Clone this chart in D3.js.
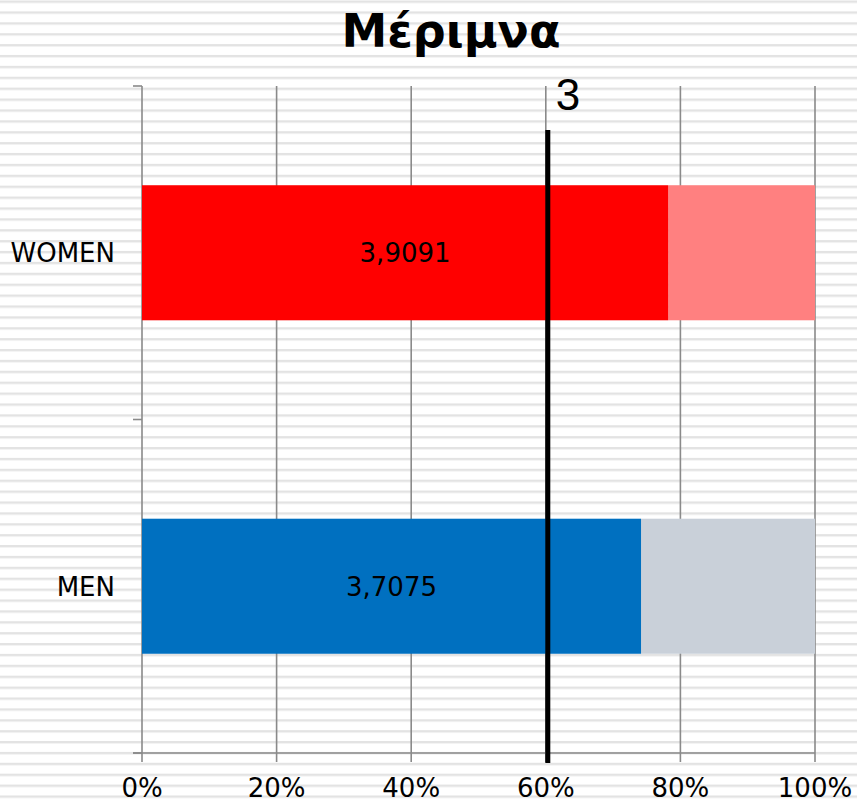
<!DOCTYPE html>
<html>
<head>
<meta charset="utf-8">
<script src="https://cdn.jsdelivr.net/npm/d3@7"></script>
<style>
  body { margin: 0; background: #fff; }
  svg { display: block; }
</style>
</head>
<body>
<div id="chart"></div>
<script>
var categories = ["WOMEN", "MEN"]
var means = [3.9091, 3.7075]
var meanLabels = ["3,9091", "3,7075"]
var scaleMax = 5
var refValue = 3
var tickValues = [0, 0.2, 0.4, 0.6, 0.8, 1]
var mainColors = ["#ff0000", "#0070c0"]
var restColors = ["#ff8080", "#c9d0d9"]

var width = 857,
    height = 802,
    margin = { top: 86, right: 42, bottom: 49, left: 142 }

var svg = d3.select("#chart").append("svg")
    .attr("width", width)
    .attr("height", height)

// striped background
var defs = svg.append("defs")
var pat = defs.append("pattern")
    .attr("id", "stripes")
    .attr("patternUnits", "userSpaceOnUse")
    .attr("width", 10)
    .attr("height", 10.89)
    .attr("y", 0.5)
pat.append("rect").attr("width", 10).attr("height", 10.89).attr("fill", "#fff")
pat.append("rect").attr("y", 0).attr("width", 10).attr("height", 2.4).attr("fill", "#e3e3e3")
svg.append("rect").attr("width", width).attr("height", height).attr("fill", "url(#stripes)")

var x = d3.scaleLinear().domain([0, 1]).range([margin.left, width - margin.right])
var y = d3.scaleBand().domain(categories)
    .range([margin.top, height - margin.bottom])
    .paddingInner(0.595)
    .paddingOuter(0.2976)

// gridlines + bottom ticks
svg.selectAll(".grid")
  .data(tickValues)
  .enter().append("line")
    .attr("x1", function(d) { return x(d); })
    .attr("x2", function(d) { return x(d); })
    .attr("y1", margin.top)
    .attr("y2", height - margin.bottom + 9)
    .attr("stroke", "#8a8a8a")
    .attr("stroke-width", 1.6)

// category axis ticks (band edges)
var yEdges = [margin.top, (margin.top + height - margin.bottom) / 2, height - margin.bottom]
svg.selectAll(".ytick")
  .data(yEdges)
  .enter().append("line")
    .attr("x1", margin.left - 9)
    .attr("x2", margin.left)
    .attr("y1", function(d) { return d; })
    .attr("y2", function(d) { return d; })
    .attr("stroke", "#8a8a8a")
    .attr("stroke-width", 1.6)

svg.append("line")
    .attr("x1", margin.left - 9).attr("x2", x(1))
    .attr("y1", height - margin.bottom).attr("y2", height - margin.bottom)
    .attr("stroke", "#8a8a8a").attr("stroke-width", 1.6)

// bars: filled part and remainder
var rows = categories.map(function(c, i) { return { cat: c, p: means[i] / scaleMax, i: i }; })

svg.selectAll(".rest")
  .data(rows)
  .enter().append("rect")
    .attr("x", function(d) { return x(d.p); })
    .attr("y", function(d) { return y(d.cat); })
    .attr("width", function(d) { return x(1) - x(d.p); })
    .attr("height", y.bandwidth())
    .attr("fill", function(d) { return restColors[d.i]; })

svg.selectAll(".bar")
  .data(rows)
  .enter().append("rect")
    .attr("x", x(0))
    .attr("y", function(d) { return y(d.cat); })
    .attr("width", function(d) { return x(d.p) - x(0); })
    .attr("height", y.bandwidth())
    .attr("fill", function(d) { return mainColors[d.i]; })

svg.selectAll(".vlabel")
  .data(rows)
  .enter().append("text")
    .attr("x", function(d) { return (x(0) + x(d.p)) / 2; })
    .attr("y", function(d) { return y(d.cat) + y.bandwidth() / 2 + 9.5; })
    .attr("text-anchor", "middle")
    .style("font-family", "DejaVu Sans")
    .style("font-size", "26px")
    .text(function(d) { return meanLabels[d.i]; })

// y labels
svg.selectAll(".ylabel")
  .data(categories)
  .enter().append("text")
    .attr("x", 115)
    .attr("y", function(d) { return y(d) + y.bandwidth() / 2 + 9.5; })
    .attr("text-anchor", "end")
    .style("font-family", "DejaVu Sans")
    .style("font-size", "26px")
    .text(function(d) { return d; })

// x tick labels
svg.selectAll(".xlabel")
  .data(tickValues)
  .enter().append("text")
    .attr("x", function(d) { return x(d); })
    .attr("y", 797)
    .attr("text-anchor", "middle")
    .style("font-family", "DejaVu Sans")
    .style("font-size", "26px")
    .text(function(d) { return Math.round(d * 100) + "%"; })

// reference line
var xr = x(refValue / scaleMax) + 2
svg.append("line")
    .attr("x1", xr).attr("x2", xr)
    .attr("y1", 130).attr("y2", height - margin.bottom + 10)
    .attr("stroke", "#000")
    .attr("stroke-width", 5)

svg.append("text")
    .attr("x", xr + 8)
    .attr("y", 110)
    .style("font-family", "Liberation Sans")
    .style("font-size", "44px")
    .text(refValue)

// title
svg.append("text")
    .attr("x", 451)
    .attr("y", 47)
    .attr("text-anchor", "middle")
    .style("font-family", "DejaVu Sans")
    .style("font-weight", "bold")
    .style("font-size", "46px")
    .text("Μέριμνα")
</script>
</body>
</html>
